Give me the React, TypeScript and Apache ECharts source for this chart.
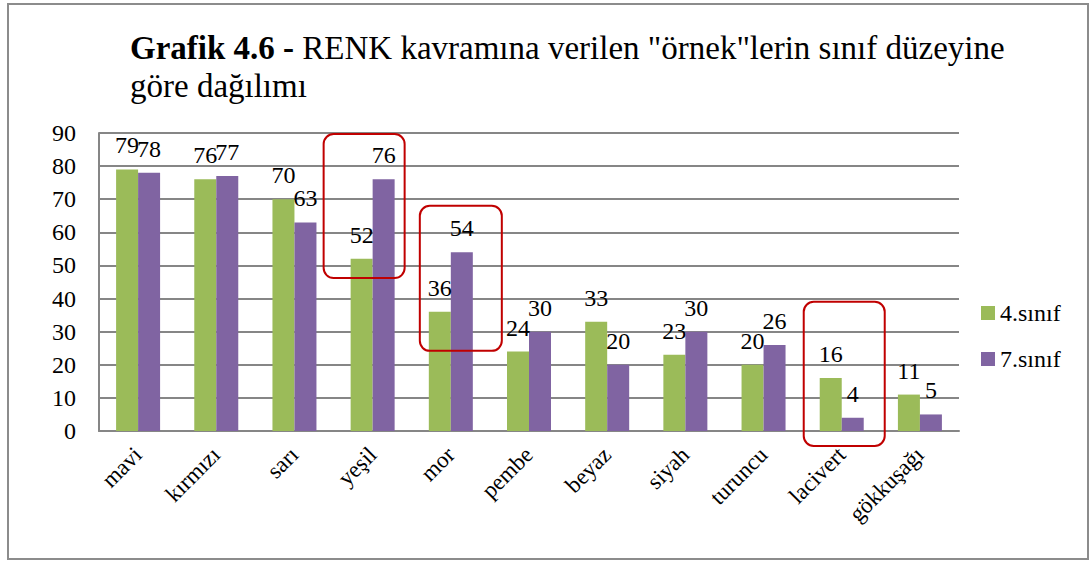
import React, { useEffect, useRef } from "react";
import * as echarts from "echarts";

const categories = ["mavi", "kırmızı", "sarı", "yeşil", "mor", "pembe", "beyaz", "siyah", "turuncu", "lacivert", "gökkuşağı"];
const sinif4 = [79, 76, 70, 52, 36, 24, 33, 23, 20, 16, 11];
const sinif7 = [78, 77, 63, 76, 54, 30, 20, 30, 26, 4, 5];
const seriesNames = ["4.sınıf", "7.sınıf"];
const yTicks = { min: 0, max: 90, interval: 10 };
// highlighted categories: [categoryIndex, valueTop, valueBottom]
const highlights: [number, number, number][] = [
  [3, 89.7, 46.2],
  [4, 68, 24.2],
  [9, 39, -4.5],
];
// horizontal extent of each highlight box relative to the category centre (px)
const highlightOffsets: [number, number][] = [
  [-49, 32],
  [-31, 51],
  [-38, 43],
];

const FONT = "Liberation Serif";
const CSS = `.chart-root svg text { font-family: "Liberation Serif", "Times New Roman", serif !important; }`;

export default function App() {
  const ref = useRef<HTMLDivElement>(null);
  useEffect(() => {
    if (!ref.current) return;
    const chart = echarts.init(ref.current, null, { renderer: "svg" });
    const labelStyle = {
      show: true,
      position: "top" as const,
      distance: 12,
      fontSize: 24,
      fontFamily: FONT,
      color: "#000",
    };
    chart.setOption({
      animation: false,
      title: {
        left: 125,
        top: 24,
        text: '{b|Grafik 4.6 -} {n|RENK kavramına verilen "örnek"lerin sınıf düzeyine}\n{n|göre dağılımı}',
        textStyle: {
          fontFamily: FONT,
          fontSize: 33,
          rich: {
            b: { fontFamily: FONT, fontSize: 33, fontWeight: "bold", color: "#000", lineHeight: 38 },
            n: { fontFamily: FONT, fontSize: 33, fontWeight: "normal", color: "#000", lineHeight: 38 },
          },
        },
      },
      legend: {
        orient: "vertical",
        left: 976,
        top: 296,
        itemWidth: 14,
        itemHeight: 14,
        itemGap: 22,
        icon: "rect",
        textStyle: { fontFamily: FONT, fontSize: 24, color: "#000" },
        data: seriesNames,
      },
      grid: { left: 99, top: 133, width: 860, height: 298, containLabel: false },
      xAxis: {
        type: "category",
        data: categories,
        axisLine: { show: true, lineStyle: { color: "#868686", width: 2 } },
        axisTick: { show: false },
        axisLabel: {
          rotate: 45,
          interval: 0,
          margin: 20,
          fontSize: 23,
          fontFamily: FONT,
          color: "#000",
        },
      },
      yAxis: {
        type: "value",
        min: yTicks.min,
        max: yTicks.max,
        interval: yTicks.interval,
        axisLine: { show: true, lineStyle: { color: "#868686", width: 2 } },
        axisTick: { show: false },
        splitLine: { lineStyle: { color: "#868686", width: 2 } },
        axisLabel: { fontSize: 24, fontFamily: FONT, color: "#000", margin: 23 },
      },
      graphic: [
        {
          type: "rect",
          shape: { x: 8, y: 4, width: 1080, height: 555 },
          style: { fill: "none", stroke: "#8c8c8c", lineWidth: 2 },
          z: 100,
        },
      ],
      series: [
        {
          name: seriesNames[0],
          type: "bar",
          data: sinif4,
          barWidth: 22,
          barGap: "0%",
          itemStyle: { color: "#9BBB59" },
          label: labelStyle,
        },
        {
          name: seriesNames[1],
          type: "bar",
          data: sinif7,
          barWidth: 22,
          barGap: "0%",
          itemStyle: { color: "#8064A2" },
          label: labelStyle,
        },
        {
          type: "custom",
          clip: false,
          silent: true,
          z: 10,
          data: highlights.map((h, i) => [h[0], h[1], h[2], highlightOffsets[i][0], highlightOffsets[i][1]]),
          encode: { x: 0, y: [1, 2] },
          renderItem: (_params: any, api: any) => {
            const top = api.coord([api.value(0), api.value(1)]);
            const bot = api.coord([api.value(0), api.value(2)]);
            const l = api.value(3);
            const r = api.value(4);
            return {
              type: "rect",
              shape: { x: top[0] + l, y: top[1], width: r - l, height: bot[1] - top[1], r: 10 },
              style: { fill: "none", stroke: "#C00000", lineWidth: 2 },
            };
          },
        },
      ],
    });
    return () => chart.dispose();
  }, []);
  return (
    <>
      <style>{CSS}</style>
      <div
        ref={ref}
        className="chart-root"
        style={{ position: "absolute", left: 0, top: 0, width: 1090, height: 562 }}
      />
    </>
  );
}
